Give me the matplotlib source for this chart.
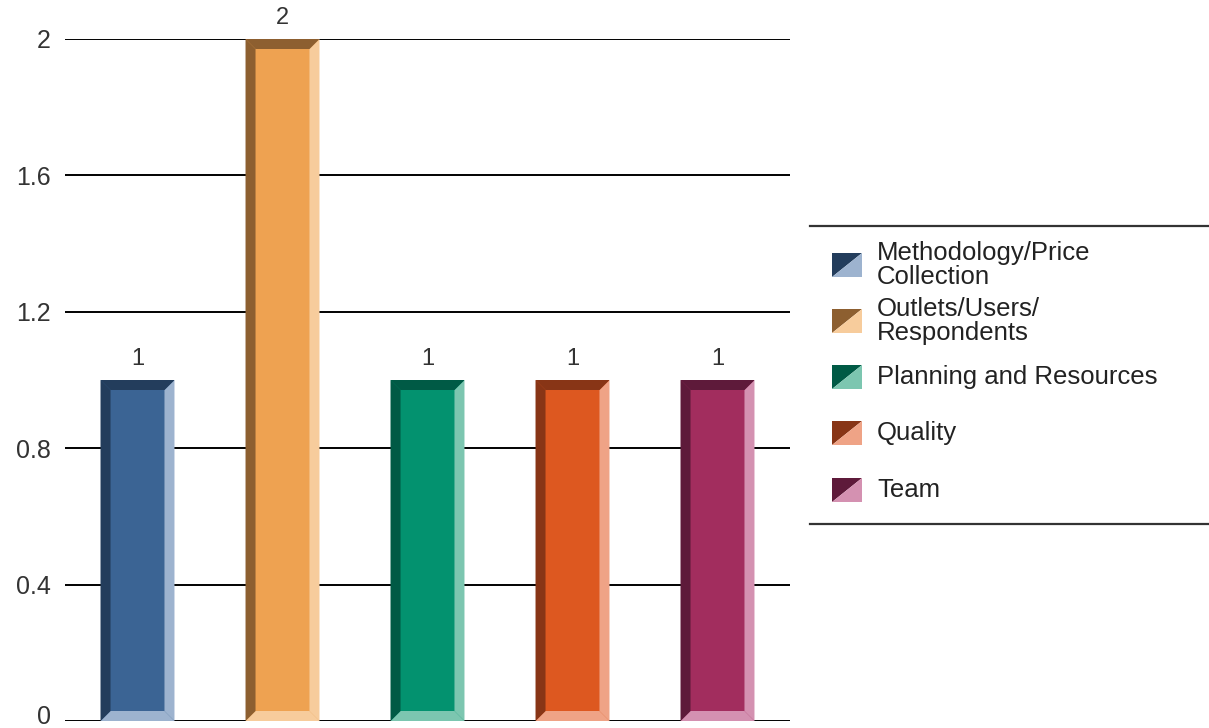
import matplotlib
matplotlib.use("Agg")
import matplotlib.pyplot as plt
from matplotlib.patches import Polygon
from matplotlib.transforms import ScaledTranslation

categories = ["Methodology/Price\nCollection", "Outlets/Users/\nRespondents",
              "Planning and Resources", "Quality", "Team"]
values = [1, 2, 1, 1, 1]
yticks = [0, 0.4, 0.8, 1.2, 1.6, 2]
ytick_labels = ["0", "0.4", "0.8", "1.2", "1.6", "2"]

main_colors = ["#3b6494", "#eea251", "#03926f", "#dd5820", "#a22d5e"]
dark_colors = ["#233d5c", "#8d5f30", "#005a45", "#883516", "#5e1a3a"]
light_colors = ["#9db3cf", "#f7cc9c", "#7cc6b0", "#efa386", "#d491b1"]

plt.rcParams['font.family'] = ['Liberation Sans', 'DejaVu Sans']

W, H = 1209, 728
fig = plt.figure(figsize=(W / 100, H / 100), dpi=100)
ax_l, ax_r, ax_b, ax_t = 65, 790, 728 - 721, 728 - 39
ax = fig.add_axes([ax_l / W, ax_b / H, (ax_r - ax_l) / W, (ax_t - ax_b) / H])

n = len(values)
ax.set_xlim(-0.5, n - 0.5)
ax.set_ylim(0, 2)
bar_w = 0.51

# bevel size in data units (about 10 px)
bev_px = 10
bx = bev_px * (n / (ax_r - ax_l))
by = bev_px * (2 / (ax_t - ax_b))

xs = list(range(n))
bars = ax.bar(xs, values, width=bar_w, color=main_colors, zorder=3, linewidth=0)
for i, (x, h) in enumerate(zip(xs, values)):
    x0, x1 = x - bar_w / 2, x + bar_w / 2
    left = [(x0, 0), (x0, h), (x0 + bx, h - by), (x0 + bx, by)]
    top = [(x0, h), (x1, h), (x1 - bx, h - by), (x0 + bx, h - by)]
    right = [(x1, h), (x1, 0), (x1 - bx, by), (x1 - bx, h - by)]
    bottom = [(x0, 0), (x1, 0), (x1 - bx, by), (x0 + bx, by)]
    for pts, c in ((right, light_colors[i]), (bottom, light_colors[i]),
                   (left, dark_colors[i]), (top, dark_colors[i])):
        ax.add_patch(Polygon(pts, closed=True, facecolor=c, edgecolor='none',
                             zorder=4, clip_on=False))
    ax.annotate(str(h), (x, h), xytext=(0, 7), textcoords='offset points',
                ha='center', va='bottom', fontsize=17, color='#333333',
                annotation_clip=False)

ax.set_yticks(yticks)
ax.set_yticklabels(ytick_labels)
ax.set_xticks([])
ax.tick_params(axis='y', length=0, pad=10, labelsize=18, labelcolor='#333333')
# nudge the bottom label up so it stays inside the figure
lab0 = ax.get_yticklabels()[0]
lab0.set_transform(lab0.get_transform() + ScaledTranslation(0, 5 / 72, fig.dpi_scale_trans))
for s in ax.spines.values():
    s.set_visible(False)
ax.grid(axis='y', color='black', linewidth=1.4, zorder=1)
ax.set_axisbelow(True)

# legend drawn in pixel coordinates
lg = fig.add_axes([0, 0, 1, 1], facecolor='none')
lg.set_xlim(0, W)
lg.set_ylim(H, 0)
lg.axis('off')
lg.plot([810, W], [226, 226], color='#333333', lw=1.6)
lg.plot([810, W], [524, 524], color='#333333', lw=1.6)
row_y = [265, 321, 377, 433, 490]
pw, ph = 30, 24
px0 = 832
for i, (lab, yc) in enumerate(zip(categories, row_y)):
    y0, y1 = yc - ph / 2, yc + ph / 2
    lg.add_patch(Polygon([(px0, y1), (px0, y0), (px0 + pw, y0)], closed=True,
                         facecolor=dark_colors[i], edgecolor='none'))
    lg.add_patch(Polygon([(px0, y1), (px0 + pw, y0), (px0 + pw, y1)], closed=True,
                         facecolor=light_colors[i], edgecolor='none'))
    lg.text(877, yc, lab, ha='left', va='center', fontsize=18.5,
            color='#222222', linespacing=0.95)

fig.savefig("out.png", dpi=100)
